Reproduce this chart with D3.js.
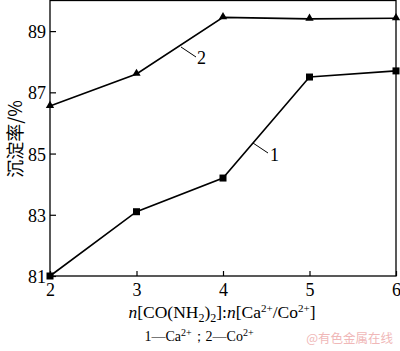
<!DOCTYPE html>
<html>
<head>
<meta charset="utf-8">
<script src="https://cdn.jsdelivr.net/npm/d3@7"></script>
<style>
body { margin: 0; background: #fff; }
svg { display: block; }
.axis text { font-family: 'Liberation Serif', 'Times New Roman', serif; font-size: 18px; fill: #000; }
</style>
</head>
<body>
<svg width="400" height="351"></svg>
<script>
var ratios = [2, 3, 4, 5, 6];
var ca = [81.0, 83.1, 84.2, 87.5, 87.7];   // 1 — Ca2+
var co = [86.55, 87.6, 89.45, 89.4, 89.42]; // 2 — Co2+
var yTicks = [81, 83, 85, 87, 89];
var xTicks = [2, 3, 4, 5, 6];

var svg = d3.select("svg");
var serif = "'Liberation Serif', 'Times New Roman', serif";

var x = d3.scaleLinear().domain([2, 6]).range([50, 396]);
var y = d3.scaleLinear().domain([81, 90]).range([276, 0.5]);

// frame
svg.append("rect")
  .attr("x", 50).attr("y", 0.5)
  .attr("width", 346).attr("height", 275.5)
  .attr("fill", "none").attr("stroke", "#000").attr("stroke-width", 1.3);

// y axis, ticks inside
var ya = svg.append("g")
  .attr("class", "axis")
  .attr("transform", "translate(50,0)")
  .call(d3.axisRight(y).tickValues(yTicks).tickSize(6).tickFormat(d3.format("d")))
  .attr("font-family", serif).attr("font-size", 18);
ya.select(".domain").remove();
ya.selectAll("line").attr("stroke-width", 1.2);
ya.selectAll("text")
  .attr("x", -4).attr("dy", "0.36em")
  .attr("text-anchor", "end");

// x axis, ticks inside
var xa = svg.append("g")
  .attr("class", "axis")
  .attr("transform", "translate(0,276)")
  .call(d3.axisTop(x).tickValues(xTicks).tickSize(5).tickFormat(d3.format("d")))
  .attr("font-family", serif).attr("font-size", 18);
xa.select(".domain").remove();
xa.selectAll("line").attr("stroke-width", 1.2);
xa.selectAll("text")
  .attr("y", 20).attr("dy", 0);

var line = d3.line()
  .x(function(d, i){ return x(ratios[i]); })
  .y(function(d){ return y(d); });

[ca, co].forEach(function(s){
  svg.append("path").datum(s)
    .attr("d", line)
    .attr("fill", "none").attr("stroke", "#000").attr("stroke-width", 1.6);
});

// squares for series 1
svg.selectAll(".sq").data(ca).enter().append("rect")
  .attr("x", function(d, i){ return x(ratios[i]) - 3.5; })
  .attr("y", function(d){ return y(d) - 3.5; })
  .attr("width", 7).attr("height", 7).attr("fill", "#000");

// triangles for series 2
var tri = d3.symbol().type(d3.symbolTriangle).size(30);
svg.selectAll(".tri").data(co).enter().append("path")
  .attr("d", tri)
  .attr("transform", function(d, i){ return "translate(" + x(ratios[i]) + "," + (y(d) - 0.5) + ")"; })
  .attr("fill", "#000");

// curve labels with leader lines
svg.append("line").attr("x1", 181).attr("y1", 47).attr("x2", 196).attr("y2", 57)
  .attr("stroke", "#000").attr("stroke-width", 1);
svg.append("text").attr("x", 197).attr("y", 64).text("2")
  .style("font-family", serif).style("font-size", "18px");
svg.append("line").attr("x1", 253).attr("y1", 143).attr("x2", 268).attr("y2", 153)
  .attr("stroke", "#000").attr("stroke-width", 1);
svg.append("text").attr("x", 270).attr("y", 161).text("1")
  .style("font-family", serif).style("font-size", "18px");

// y title
svg.append("text")
  .attr("transform", "translate(22,139) rotate(-90)")
  .attr("text-anchor", "middle")
  .style("font-family", "'Noto Sans CJK SC', serif").style("font-size", "18px")
  .text("沉淀率/%");

// x title
var xt = svg.append("text")
  .attr("x", 222).attr("y", 318).attr("text-anchor", "middle")
  .style("font-family", serif).style("font-size", "17.5px");
xt.append("tspan").style("font-style", "italic").text("n");
xt.append("tspan").text("[CO(NH");
xt.append("tspan").attr("dy", 4).style("font-size", "12px").text("2");
xt.append("tspan").attr("dy", -4).text(")");
xt.append("tspan").attr("dy", 4).style("font-size", "12px").text("2");
xt.append("tspan").attr("dy", -4).text("]:");
xt.append("tspan").style("font-style", "italic").text("n");
xt.append("tspan").text("[Ca");
xt.append("tspan").attr("dy", -6).style("font-size", "11px").text("2+");
xt.append("tspan").attr("dy", 6).text("/Co");
xt.append("tspan").attr("dy", -6).style("font-size", "11px").text("2+");
xt.append("tspan").attr("dy", 6).text("]");

// legend note
var lg = svg.append("text")
  .attr("x", 199).attr("y", 341).attr("text-anchor", "middle")
  .style("font-family", serif).style("font-size", "14px");
lg.append("tspan").text("1—Ca");
lg.append("tspan").attr("dy", -5).style("font-size", "10px").text("2+");
lg.append("tspan").attr("dy", 5).text("；2—Co");
lg.append("tspan").attr("dy", -5).style("font-size", "10px").text("2+");

// watermark
svg.append("text")
  .attr("x", 393).attr("y", 343).attr("text-anchor", "end")
  .style("font-family", "'Noto Sans CJK SC', sans-serif").style("font-size", "12.5px")
  .attr("fill", "#f0b8b8")
  .text("@有色金属在线");
</script>
</body>
</html>
